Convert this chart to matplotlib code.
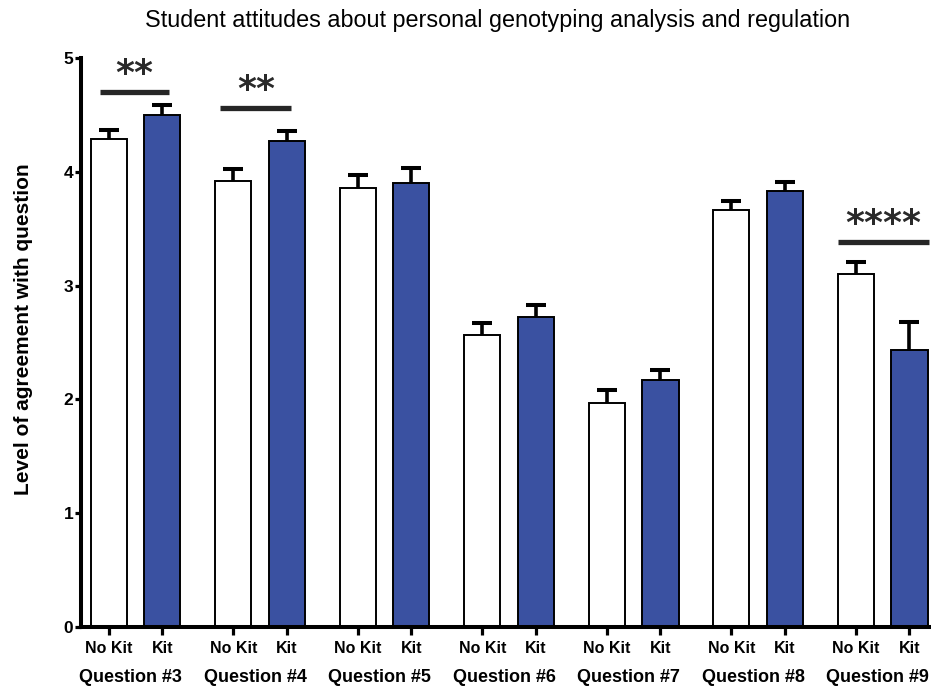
import matplotlib
matplotlib.use("Agg")
import matplotlib.pyplot as plt
import matplotlib.transforms as mtransforms
import numpy as np

plt.rcParams['font.family'] = ['Liberation Sans', 'DejaVu Sans']

questions = ["Question #3", "Question #4", "Question #5", "Question #6",
             "Question #7", "Question #8", "Question #9"]
groups = ["No Kit", "Kit"]
no_kit_mean = [4.29, 3.92, 3.86, 2.57, 1.97, 3.66, 3.10]
no_kit_err = [0.08, 0.10, 0.11, 0.10, 0.11, 0.08, 0.11]
kit_mean = [4.50, 4.27, 3.90, 2.72, 2.17, 3.83, 2.43]
kit_err = [0.09, 0.09, 0.13, 0.11, 0.09, 0.08, 0.25]

# significance brackets: question index, line level, stars
sig_questions = [0, 1, 6]
sig_levels = [4.70, 4.56, 3.38]
sig_stars = ["**", "**", "****"]

yticks = [0, 1, 2, 3, 4, 5]

title = "Student attitudes about personal genotyping analysis and regulation"
ylabel = "Level of agreement with question"

BLUE = "#3a51a1"
INK = "#000000"

fig = plt.figure(figsize=(9.31, 6.90), dpi=100)
ax = fig.add_axes([0.087, 0.0913, 0.913, 0.8247])

x = np.arange(len(questions))
off = 0.215
w = 0.29


def bars_with_upper_error(xpos, mean, err, face):
    mean = np.asarray(mean)
    err = np.asarray(err)
    ax.bar(xpos, mean, width=w, color=face, edgecolor=INK,
           linewidth=1.4, zorder=2)
    ax.vlines(xpos, mean, mean + err, color=INK, lw=2.6, zorder=3)
    ax.plot(xpos, mean + err, ls="none", marker="_", markersize=14.5,
            mew=2.9, color=INK, zorder=3)


bars_with_upper_error(x - off, no_kit_mean, no_kit_err, "white")
bars_with_upper_error(x + off, kit_mean, kit_err, BLUE)

# significance lines and stars
spans = {0: (-0.29, 0.27), 1: (-0.32, 0.25), 6: (-0.36, 0.37)}
for qi, lvl, st in zip(sig_questions, sig_levels, sig_stars):
    a, b = spans[qi]
    ax.plot([qi + a, qi + b], [lvl, lvl], color="#262626", lw=3.8,
            solid_capstyle="butt", zorder=4, clip_on=False)
    ax.text(qi + (a + b) / 2, lvl + 0.07, st, ha="center",
            va="baseline", fontsize=26, fontweight="bold", color="#2a2a2a",
            family="DejaVu Sans", zorder=4)

ax.set_xlim(-0.439, 6.388)
ax.set_ylim(0, 5)

ax.set_yticks(yticks)
ax.set_yticklabels([str(t) for t in yticks], fontsize=12.5, fontweight="bold")

tick_pos = np.ravel(np.column_stack([x - off, x + off]))
ax.set_xticks(tick_pos)
ax.set_xticklabels(groups * len(questions), fontsize=11.5, fontweight="bold")

for sp in ["top", "right"]:
    ax.spines[sp].set_visible(False)
for sp in ["left", "bottom"]:
    ax.spines[sp].set_linewidth(2.9)
    ax.spines[sp].set_color(INK)

ax.tick_params(axis="x", direction="out", length=6, width=2.3, pad=4,
               colors=INK)
ax.tick_params(axis="y", direction="out", length=4.5, width=2.3, pad=1,
               colors=INK)

trans = mtransforms.blended_transform_factory(ax.transData, fig.transFigure)
for xi, q in zip(x, questions):
    ax.text(xi - 0.04, 1 - 678 / 690, q, transform=trans, ha="center",
            va="center", fontsize=13, fontweight="bold", color=INK)

ax.set_ylabel(ylabel, fontsize=15, fontweight="bold")
ax.yaxis.set_label_coords(-0.056, 0.524)

fig.text(0.534, 1 - 20 / 690, title, ha="center", va="center",
         fontsize=16.8, color=INK)

fig.savefig("out.png", dpi=100)
